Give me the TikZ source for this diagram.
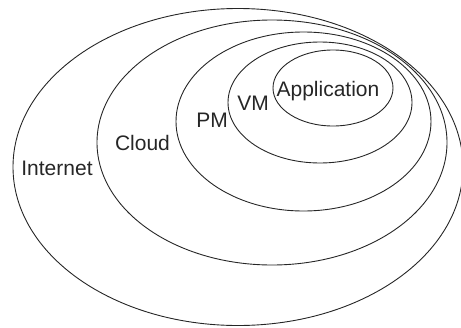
\documentclass[tikz,border=0pt]{standalone}
\usepackage{fontspec}
\setmainfont{Liberation Sans}
\begin{document}
\begin{tikzpicture}[x=1pt,y=-1pt,
  ring/.style={draw=black!85,line width=0.9pt},
  tag/.style={inner sep=0pt,anchor=base,font=\fontsize{21}{21}\selectfont,text=black!85}]
\useasboundingbox (0,0) rectangle (461,327);
% nested layers, all meeting near the upper right
\coordinate (cInternet) at (238,167);
\coordinate (cCloud) at (272,142.5);
\coordinate (cPM) at (303.5,121.5);
\coordinate (cVM) at (320,102.5);
\coordinate (cApp) at (333,88);
\draw[ring] (cInternet) ellipse [x radius=225, y radius=158.5];
\draw[ring] (cCloud) ellipse [x radius=175, y radius=122.5];
\draw[ring] (cPM) ellipse [x radius=127.5, y radius=89.5];
\draw[ring] (cVM) ellipse [x radius=92, y radius=60.5];
\draw[ring] (cApp) ellipse [x radius=60, y radius=38];
% layer labels
\node[tag] (internet) at (57,175.7) {Internet};
\node[tag] (cloud) at (142.5,150) {Cloud};
\node[tag] (pm) at (212,127.7) {PM};
\node[tag] (vm) at (253,110) {VM};
\node[tag] (app) at (328,96) {Application};
\end{tikzpicture}
\end{document}
